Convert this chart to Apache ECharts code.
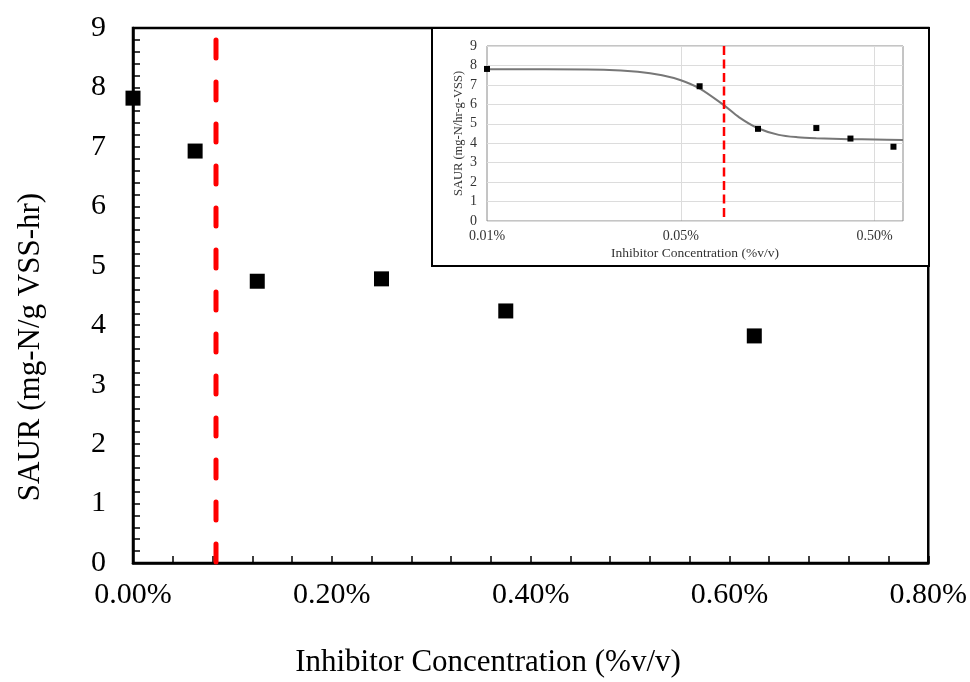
<!DOCTYPE html>
<html>
<head>
<meta charset="utf-8">
<script src="https://cdn.jsdelivr.net/npm/echarts@6/dist/echarts.min.js"></script>
<style>
	html, body { margin: 0; padding: 0; background: #fff; }
	#chart { width: 970px; height: 682px; }
</style>
</head>
<body>
<div id="chart"></div>
<script>
// measured points (SAUR vs inhibitor concentration)
var mainConc = [0, 0.0625, 0.125, 0.25, 0.375, 0.625];
var insetConc = [0.005, 0.0625, 0.125, 0.25, 0.375, 0.625];
var saur = [7.82, 6.93, 4.74, 4.78, 4.24, 3.82];
// fitted curve of the inset
var fitConc = [0.005, 0.01, 0.02, 0.03, 0.04, 0.05, 0.0627, 0.0833, 0.10, 0.125, 0.16, 0.20, 0.25, 0.37, 0.50, 0.70];
var fitSaur = [7.80, 7.80, 7.78, 7.68, 7.50, 7.24, 6.81, 5.96, 5.33, 4.77, 4.43, 4.31, 4.26, 4.21, 4.19, 4.17];
// EC50 marker
var ec50 = 0.0835;
var mainMarkerTop = 8.8;
var insetMarkerTop = 9;
// inset tick labels
var insetTickValues = [0.005, 0.05, 0.5];
var insetTickLabels = ['0.01%', '0.05%', '0.50%'];

function pairs(xs, ys) {
	var out = [];
	for (var i = 0; i < xs.length; i++) out.push([xs[i], ys[i]]);
	return out;
}

var serif = 'Liberation Serif';
var chart = echarts.init(document.getElementById('chart'));

var option = {
	animation: false,
	backgroundColor: '#fff',
	grid: [{
		left: 133, top: 28, width: 796, height: 535,
		show: true, borderColor: '#000', borderWidth: 2.5
	}, {
		left: 487, top: 46, width: 416, height: 175,
		show: true, borderColor: '#8a8a8a', borderWidth: 1, z: 6
	}],
	graphic: [{
		type: 'rect', z: 5,
		shape: { x: 432, y: 28, width: 497, height: 238 },
		style: { fill: '#fff', stroke: '#000', lineWidth: 2 }
	}, {
		type: 'text', x: 488, y: 663,
		style: {
			text: 'Inhibitor Concentration (%v/v)', font: '31px "Liberation Serif"', fill: '#000',
			align: 'center', verticalAlign: 'middle', textAlign: 'center', textVerticalAlign: 'middle'
		}
	}, {
		type: 'text', x: 31, y: 347, rotation: Math.PI / 2,
		style: {
			text: 'SAUR (mg-N/g VSS-hr)', font: '31px "Liberation Serif"', fill: '#000',
			align: 'center', verticalAlign: 'middle', textAlign: 'center', textVerticalAlign: 'middle'
		}
	}],
	xAxis: [{
		gridIndex: 0, type: 'value', min: 0, max: 0.8, interval: 0.2,
		axisLine: { lineStyle: { color: '#000', width: 2.5 } },
		axisTick: { inside: true, length: 7, lineStyle: { color: '#000', width: 1.5 } },
		minorTick: { show: true, splitNumber: 5, length: 7, lineStyle: { color: '#000', width: 1.5 } },
		splitLine: { show: false },
		axisLabel: {
			margin: 17, color: '#000', fontFamily: serif, fontSize: 30,
			formatter: function (v) { return v.toFixed(2) + '%'; }
		}
	}, {
		gridIndex: 1, type: 'log', logBase: 10, min: 0.005, max: 0.7, z: 6,
		axisLine: { show: false },
		axisTick: { show: false },
		splitLine: { show: false },
		axisLabel: {
			customValues: insetTickValues,
			margin: 8, color: '#333', fontFamily: serif, fontSize: 14,
			formatter: function (v) {
				for (var i = 0; i < insetTickValues.length; i++) {
					if (Math.abs(Math.log(v / insetTickValues[i])) < 0.01) return insetTickLabels[i];
				}
				return '';
			}
		},
		name: 'Inhibitor Concentration (%v/v)', nameLocation: 'middle', nameGap: 25,
		nameTextStyle: { color: '#333', fontFamily: serif, fontSize: 13.5 }
	}],
	yAxis: [{
		gridIndex: 0, type: 'value', min: 0, max: 9, interval: 1,
		axisLine: { lineStyle: { color: '#000', width: 2.5 } },
		axisTick: { inside: true, length: 7, lineStyle: { color: '#000', width: 1.5 } },
		minorTick: { show: true, splitNumber: 5, length: 7, lineStyle: { color: '#000', width: 1.5 } },
		splitLine: { show: false },
		axisLabel: { margin: 27, color: '#000', fontFamily: serif, fontSize: 30 }
	}, {
		gridIndex: 1, type: 'value', min: 0, max: 9, interval: 1, z: 6,
		axisLine: { show: false },
		axisTick: { show: false },
		splitLine: { lineStyle: { color: '#dcdcdc', width: 1 } },
		axisLabel: { margin: 10, color: '#333', fontFamily: serif, fontSize: 14 },
		name: 'SAUR (mg-N/hr-g-VSS)', nameLocation: 'middle', nameGap: 22,
		nameTextStyle: { color: '#333', fontFamily: serif, fontSize: 12.5 }
	}],
	series: [{
		// main EC50 line
		type: 'line', xAxisIndex: 0, yAxisIndex: 0,
		data: [[ec50, mainMarkerTop], [ec50, 0]],
		symbol: 'none', silent: true,
		lineStyle: { color: '#ff0000', width: 5, type: [18, 24], cap: 'round' }
	}, {
		type: 'scatter', xAxisIndex: 0, yAxisIndex: 0,
		data: pairs(mainConc, saur),
		symbol: 'rect', symbolSize: 15,
		itemStyle: { color: '#000', opacity: 1 }
	}, {
		// inset vertical gridlines
		type: 'line', xAxisIndex: 1, yAxisIndex: 1, z: 6,
		data: [], symbol: 'none', silent: true,
		markLine: {
			silent: true, symbol: 'none', label: { show: false },
			lineStyle: { color: '#dcdcdc', width: 1, type: 'solid' },
			data: [{ xAxis: insetTickValues[1] }, { xAxis: insetTickValues[2] }]
		}
	}, {
		type: 'line', xAxisIndex: 1, yAxisIndex: 1, z: 7,
		data: pairs(fitConc, fitSaur),
		symbol: 'none', smooth: 0.3, silent: true,
		lineStyle: { color: '#777', width: 2 }
	}, {
		type: 'line', xAxisIndex: 1, yAxisIndex: 1, z: 8,
		data: [[ec50, insetMarkerTop], [ec50, 0]],
		symbol: 'none', silent: true,
		lineStyle: { color: '#ff0000', width: 2.5, type: [9, 4.5] }
	}, {
		type: 'scatter', xAxisIndex: 1, yAxisIndex: 1, z: 9,
		data: pairs(insetConc, saur),
		symbol: 'rect', symbolSize: 6,
		itemStyle: { color: '#000', opacity: 1 }
	}]
};
chart.setOption(option);
</script>
</body>
</html>
